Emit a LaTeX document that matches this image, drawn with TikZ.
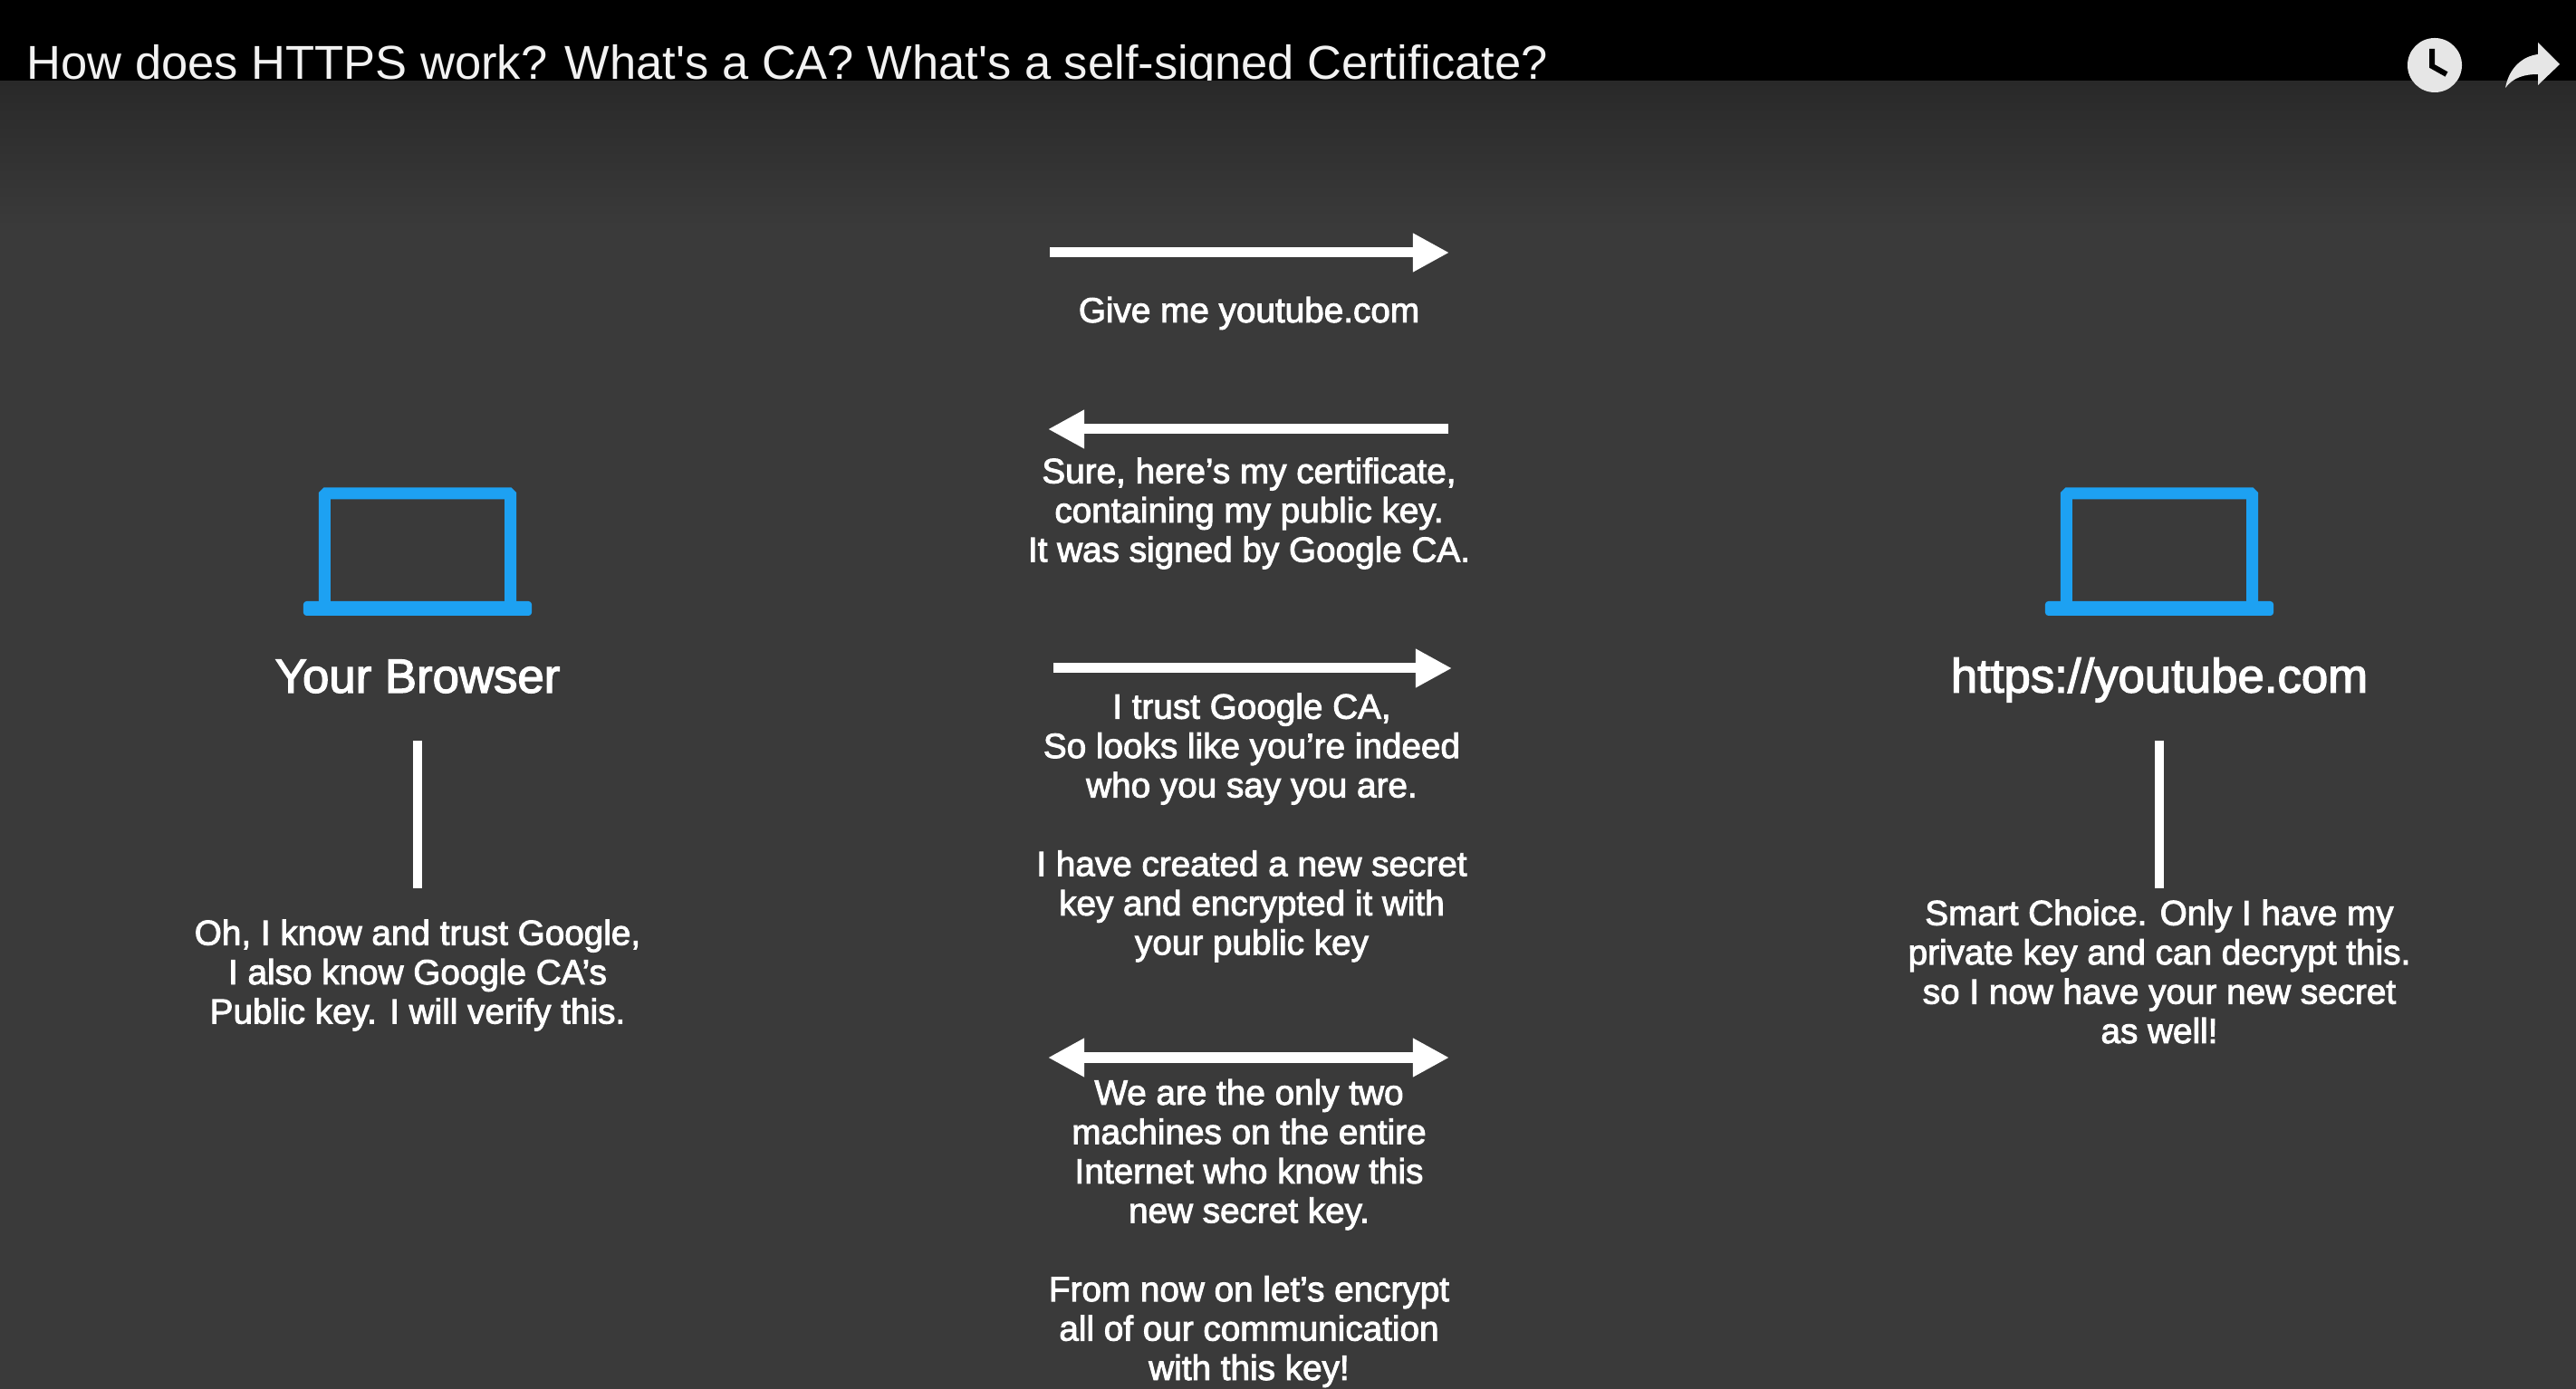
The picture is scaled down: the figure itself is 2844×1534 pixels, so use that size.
\documentclass[tikz,border=0pt]{standalone}
\usepackage{fontspec}
\usepackage{tikz}
\usetikzlibrary{arrows.meta}
\newfontfamily\titlefont{Liberation Sans}
\newfontfamily\bodyfont[FakeBold=2.5]{Liberation Sans}
\definecolor{bgcol}{HTML}{3A3A3A}
\definecolor{bandcol}{HTML}{292929}
\definecolor{lapcol}{HTML}{1DA1F2}
\definecolor{iconcol}{HTML}{E6E6E6}
\definecolor{titlecol}{HTML}{F2F2F2}
\tikzstyle{msg}=[text=white,align=center,inner sep=0pt,font=\bodyfont\fontsize{11}{12.35}\selectfont]
\tikzstyle{host}=[text=white,inner sep=0pt,font=\bodyfont\fontsize{15}{17}\selectfont]
\tikzstyle{screen}=[rectangle,draw=lapcol,line width=0.13cm,minimum width=2.05cm,minimum height=1.27cm,inner sep=0pt,rounded corners=0.5pt]
\tikzstyle{lapbase}=[rectangle,fill=lapcol,minimum width=2.52cm,minimum height=0.16cm,inner sep=0pt,rounded corners=1pt]
\tikzstyle{flow}=[white,line width=0.11cm,{Triangle[length=0.4cm,width=0.4cm]}-{Triangle[length=0.4cm,width=0.4cm]}]
\tikzstyle{flowto}=[white,line width=0.11cm,-{Triangle[length=0.4cm,width=0.4cm]}]
\tikzstyle{stem}=[white,line width=0.1cm]
\begin{document}
\begin{tikzpicture}[x=0.01cm,y=-0.01cm]
\useasboundingbox (0,0) rectangle (2844,1534);
\fill[black] (0,0) rectangle (2844,90);
\node[anchor=base west,inner sep=0pt,text=titlecol,font=\titlefont\fontsize{14.93}{18}\selectfont] (title) at (29,88) {How does HTTPS work? What's a CA? What's a self-signed Certificate?};
% the grey slide sits over the title
\fill[bgcol] (0,250) rectangle (2844,1534);
\fill[top color=bandcol,bottom color=bgcol,draw=none] (0,90) rectangle (2844,250);
% icons
\node[circle,fill=iconcol,minimum size=0.6cm,inner sep=0pt] (clock) at (2688,72) {};
\draw[black,line width=0.06cm] (2685,54) -- (2685,73) -- (2701,82);
\fill[iconcol] (2826,71) -- (2802,47) -- (2802,60) .. controls (2785,62) and (2770,75) .. (2766,97) .. controls (2775,85) and (2788,82) .. (2802,82) -- (2802,94) -- cycle;
% laptops
\node[screen] (lap1) at (461,608.5) {};
\node[lapbase] (base1) at (461,672) {};
\node[screen] (lap2) at (2384,608.5) {};
\node[lapbase] (base2) at (2384,672) {};
\node[host] (browser) at (461,747) {Your Browser};
\node[host] (server) at (2384,751) {https://youtube.com};
% vertical bars
\coordinate (b1) at (461,818);
\coordinate (b2) at (461,981);
\coordinate (s1) at (2384,818);
\coordinate (s2) at (2384,981);
\draw[stem] (b1) -- (b2);
\draw[stem] (s1) -- (s2);
\node[msg] (bnote) at (461,1077) {Oh, I know and trust Google,\\I also know Google CA’s\\Public key. I will verify this.};
\node[msg] (snote) at (2384,1073) {Smart Choice. Only I have my\\private key and can decrypt this.\\so I now have your new secret\\as well!};
% messages
\coordinate (a1) at (1159,279);
\coordinate (a2) at (1600,279);
\coordinate (c1) at (1157,474);
\coordinate (c2) at (1599,474);
\coordinate (d1) at (1163,738);
\coordinate (d2) at (1603,738);
\coordinate (e1) at (1157,1168);
\coordinate (e2) at (1600,1168);
\draw[flowto] (a1) -- (a2);
\draw[flowto] (c2) -- (c1);
\draw[flowto] (d1) -- (d2);
\draw[flow] (e1) -- (e2);
\node[msg] (m1) at (1379,346) {Give me youtube.com};
\node[msg] (m2) at (1379,567) {Sure, here’s my certificate,\\containing my public key.\\It was signed by Google CA.};
\node[msg] (m3) at (1382,914) {I trust Google CA,\\So looks like you’re indeed\\who you say you are.\\[12.35pt]I have created a new secret\\key and encrypted it with\\your public key};
\node[msg] (m4) at (1379,1362) {We are the only two\\machines on the entire\\Internet who know this\\new secret key.\\[12.35pt]From now on let’s encrypt\\all of our communication\\with this key!};
\end{tikzpicture}
\end{document}
